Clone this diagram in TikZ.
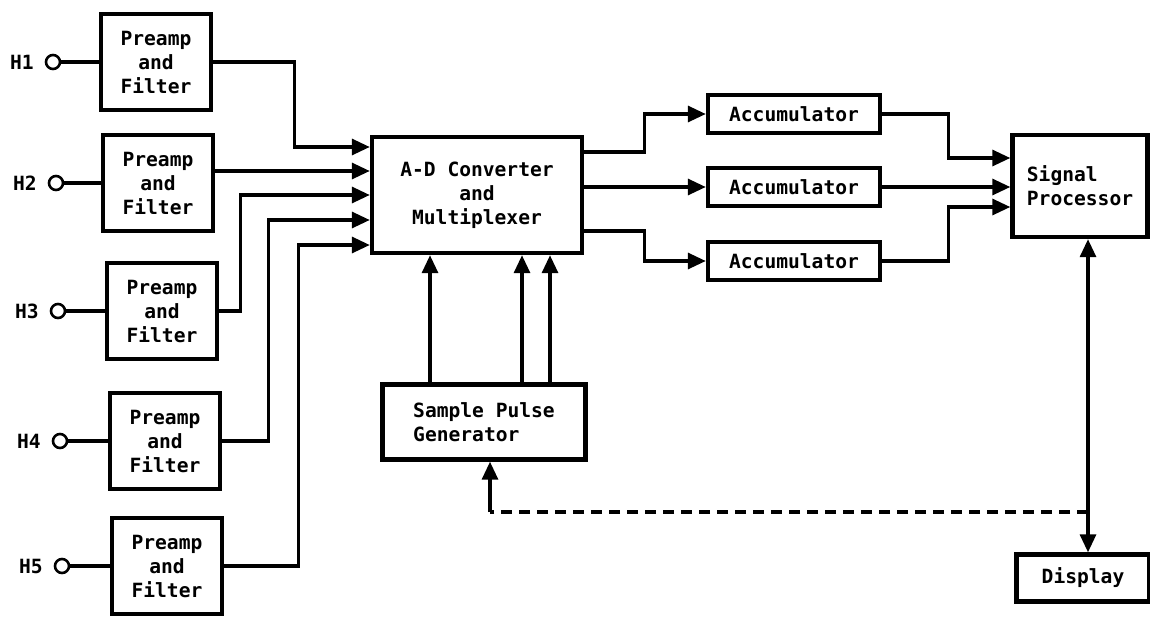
\documentclass[tikz,border=0pt]{standalone}
\usepackage{fontspec}
\setmonofont{DejaVu Sans Mono}
\usepackage{tikz}
\usetikzlibrary{arrows.meta,positioning}

\begin{document}
\begin{tikzpicture}[
    x=0.5pt, y=-0.5pt,
    font=\ttfamily\bfseries\fontsize{9.8}{12}\selectfont,
    box/.style={draw, line width=2.2pt, align=center, inner sep=2pt},
    pre/.style={box, minimum width=55pt, minimum height=48pt},
    acc/.style={box, minimum width=86pt, minimum height=19pt},
    term/.style={draw, circle, line width=1.3pt, minimum size=7pt, inner sep=0pt},
    wire/.style={line width=1.6pt},
    arrow/.style={wire, -{Triangle[length=9pt,width=8pt]}},
    both/.style={wire, {Triangle[length=9pt,width=8pt]}-{Triangle[length=9pt,width=8pt]}},
    feedback/.style={wire, dash pattern=on 5.5pt off 3.5pt}
  ]
    \useasboundingbox (0,0) rectangle (1150,616);

    \node[pre] (pre1) at (156,62) {Preamp\\and\\Filter};
    \node[pre] (pre2) at (158,183) {Preamp\\and\\Filter};
    \node[pre] (pre3) at (162,311) {Preamp\\and\\Filter};
    \node[pre] (pre4) at (165,441) {Preamp\\and\\Filter};
    \node[pre] (pre5) at (167,566) {Preamp\\and\\Filter};

    \node[term] (h1) at (53,62) {};
    \node[term] (h2) at (56,183) {};
    \node[term] (h3) at (58,311) {};
    \node[term] (h4) at (60,441) {};
    \node[term] (h5) at (62,566) {};
    \node[left=2pt of h1] (h1label) {H1};
    \node[left=2pt of h2] (h2label) {H2};
    \node[left=2pt of h3] (h3label) {H3};
    \node[left=2pt of h4] (h4label) {H4};
    \node[left=2pt of h5] (h5label) {H5};

    \node[box, minimum width=105pt, minimum height=58pt] (adc) at (477,195) {A-D Converter\\and\\Multiplexer};
    \node[box, align=left, minimum width=101.5pt, minimum height=37.5pt] (spg) at (484,422) {Sample Pulse\\Generator};

    \node[acc] (acc1) at (794,114) {Accumulator};
    \node[acc] (acc2) at (794,187) {Accumulator};
    \node[acc] (acc3) at (794,261) {Accumulator};

    \node[box, align=left, minimum width=67.5pt, minimum height=51pt] (sp) at (1080,186) {Signal\\Processor};
    \node[box, minimum width=66.5pt, minimum height=23.5pt] (disp) at (1083,578) {Display};

    \coordinate (in1) at (0,147);
    \coordinate (in2) at (0,171);
    \coordinate (in3) at (0,195);
    \coordinate (in4) at (0,220);
    \coordinate (in5) at (0,245);
    \coordinate (out1) at (0,152);
    \coordinate (out3) at (0,231);
    \coordinate (sin1) at (0,158);
    \coordinate (sin3) at (0,207);
    \coordinate (clk1) at (430,0);
    \coordinate (clk2) at (522,0);
    \coordinate (clk3) at (550,0);
    \coordinate (vline) at (1088,0);
    \coordinate (fbstart) at (1088,512);
    \coordinate (fbcorner) at (490,512);

    \draw[wire] (h1) -- (pre1);
    \draw[wire] (h2) -- (pre2);
    \draw[wire] (h3) -- (pre3);
    \draw[wire] (h4) -- (pre4);
    \draw[wire] (h5) -- (pre5);

    \draw[arrow] (pre1.east) -- ++(81,0) |- (adc.west |- in1);
    \draw[arrow] (pre2.east |- in2) -- (adc.west |- in2);
    \draw[arrow] (pre3.east) -- ++(21,0) |- (adc.west |- in3);
    \draw[arrow] (pre4.east) -- ++(46,0) |- (adc.west |- in4);
    \draw[arrow] (pre5.east) -- ++(74,0) |- (adc.west |- in5);

    \draw[arrow] (adc.east |- out1) -- ++(60,0) |- (acc1.west);
    \draw[arrow] (adc.east |- acc2) -- (acc2.west);
    \draw[arrow] (adc.east |- out3) -- ++(60,0) |- (acc3.west);

    \draw[arrow] (acc1.east) -- ++(66,0) |- (sp.west |- sin1);
    \draw[arrow] (acc2.east) -- (sp.west |- acc2);
    \draw[arrow] (acc3.east) -- ++(66,0) |- (sp.west |- sin3);

    \draw[arrow] (spg.north -| clk1) -- (adc.south -| clk1);
    \draw[arrow] (spg.north -| clk2) -- (adc.south -| clk2);
    \draw[arrow] (spg.north -| clk3) -- (adc.south -| clk3);

    \draw[both] (sp.south -| vline) -- (disp.north -| vline);
    \draw[feedback] (fbstart) -- (fbcorner);
    \draw[arrow] (fbcorner) -- (spg.south -| fbcorner);
  \end{tikzpicture}
\end{document}
